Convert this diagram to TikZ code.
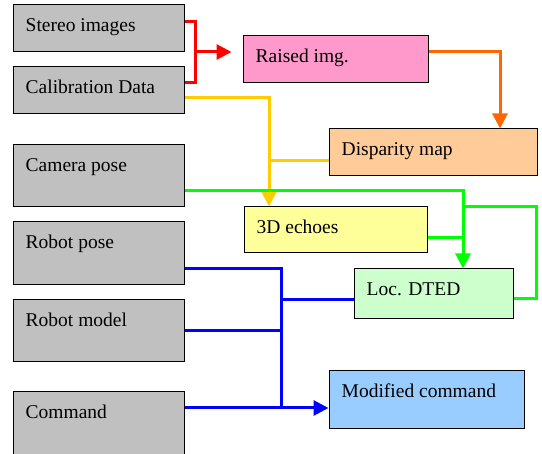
\documentclass[tikz,border=0pt]{standalone}
\usepackage{fontspec}
\setmainfont{Liberation Serif}
\usetikzlibrary{arrows.meta}
\definecolor{boxgray}{HTML}{C0C0C0}
\definecolor{pinkf}{HTML}{FF99CC}
\definecolor{peachf}{HTML}{FFCC99}
\definecolor{yellowf}{HTML}{FFFF99}
\definecolor{greenf}{HTML}{CCFFCC}
\definecolor{bluef}{HTML}{99CCFF}
\definecolor{lred}{HTML}{FF0000}
\definecolor{lorange}{HTML}{FF6600}
\definecolor{lyellow}{HTML}{FFCC00}
\definecolor{lgreen}{HTML}{00FF00}
\definecolor{lblue}{HTML}{0000FF}
\tikzset{
  blk/.style n args={3}{draw=black, line width=1pt, fill=#1, inner sep=0pt,
    minimum width=#2, minimum height=#3,
    font=\fontsize{19.5}{23}\selectfont},
  txt/.style={label={[anchor=base west, xshift=13pt, yshift=-27pt, inner sep=0pt,
    font=\fontsize{19.5}{23}\selectfont]north west:#1}},
  conn/.style={line width=3pt, draw=#1},
  arr/.style={-{Triangle[length=15pt,width=15pt]}}
}
\begin{document}
\begin{tikzpicture}[x=1pt,y=-1pt]
\useasboundingbox (0,0) rectangle (542,454);
% boxes
\node[blk={boxgray}{171pt}{47pt}, txt={Stereo images}] (stereo) at (98.5,28.5) {};
\node[blk={boxgray}{171pt}{47pt}, txt={Calibration Data}] (calib) at (98.5,90.5) {};
\node[blk={boxgray}{171pt}{62pt}, txt={Camera pose}] (camera) at (98.5,176) {};
\node[blk={boxgray}{171pt}{63pt}, txt={Robot pose}] (rpose) at (98.5,253.5) {};
\node[blk={boxgray}{171pt}{62pt}, txt={Robot model}] (rmodel) at (98.5,331) {};
\node[blk={boxgray}{171pt}{64pt}, txt={Command}] (command) at (98.5,424) {};
\node[blk={pinkf}{185pt}{47pt}, txt={Raised img.}] (raised) at (335.5,59.5) {};
\node[blk={peachf}{208pt}{47pt}, txt={Disparity map}] (disp) at (433,152.5) {};
\node[blk={yellowf}{183pt}{46pt}, txt={3D echoes}] (echo) at (335.5,230) {};
\node[blk={greenf}{159pt}{50pt}, txt={Loc. DTED}] (dted) at (433.5,294) {};
\node[blk={bluef}{195pt}{58pt}, txt={Modified command}] (modcmd) at (426.5,400) {};
% junction coordinates
\coordinate (rj) at (195,52);
\coordinate (yj) at (269,161);
\coordinate (gj) at (463,238);
\coordinate (gk) at (463,207);
\coordinate (gr) at (536,207);
\coordinate (bj) at (281,408);
% red
\draw[conn=lred] ([yshift=6.5pt]stereo.east) -| (rj) |- ([yshift=7.5pt]calib.east);
\draw[conn=lred, arr, shorten >=11pt] (rj) -- (raised.west |- rj);
% orange
\draw[conn=lorange, arr] ([yshift=7.5pt]raised.east) -| ([xshift=67pt]disp.north);
% yellow
\draw[conn=lyellow, arr] ([yshift=-7.5pt]calib.east) -| ([xshift=-66.5pt]echo.north);
\draw[conn=lyellow] ([yshift=-8.5pt]disp.west) -- (yj);
% green
\draw[conn=lgreen, arr] ([yshift=-15pt]camera.east) -| ([xshift=29.5pt]dted.north);
\draw[conn=lgreen] ([yshift=-8pt]echo.east) -- (gj);
\draw[conn=lgreen] ([yshift=-5pt]dted.east) -| (gr) -- (gk);
% blue
\draw[conn=lblue] ([yshift=-15.5pt]rpose.east) -| (bj);
\draw[conn=lblue] (rmodel.east) -- (rmodel.east -| bj);
\draw[conn=lblue] ([yshift=-6pt]dted.west) -- ([yshift=-6pt]dted.west -| bj);
\draw[conn=lblue, arr] ([yshift=16pt]command.east) -- ([yshift=-8pt]modcmd.west);
\end{tikzpicture}
\end{document}
